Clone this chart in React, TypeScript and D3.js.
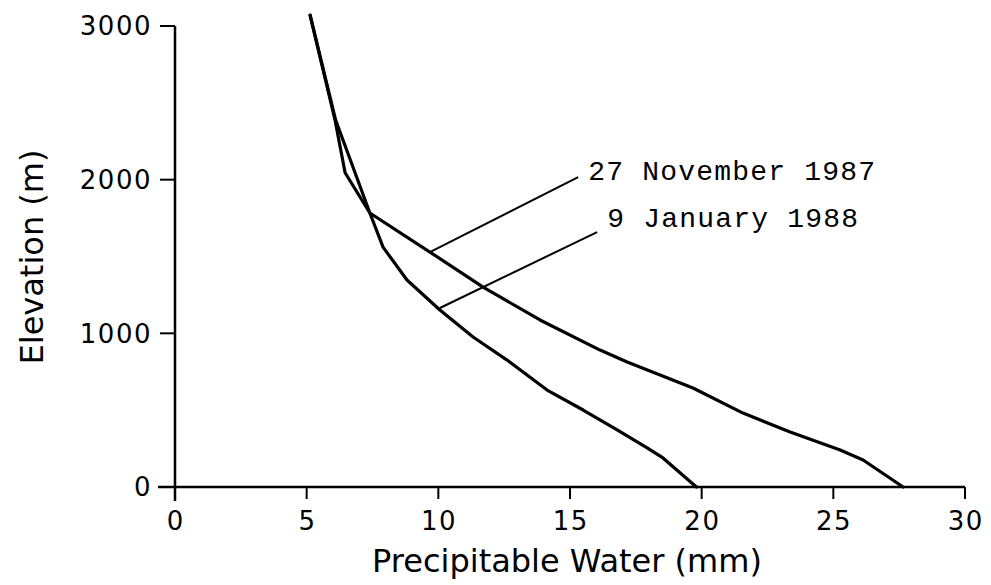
import React from "react";
import * as d3 from "d3";

// Precipitable water (mm) vs elevation (m)
const nov1987Water = [5.13, 6.08, 6.46, 7.4, 9.68, 11.7, 13.86, 16.14, 17.17, 19.67, 21.57, 23.36, 25.26, 26.13, 27.65];
const nov1987Elev = [3070, 2385, 2045, 1783, 1529, 1301, 1087, 891, 813, 644, 481, 358, 241, 176, 0];

const jan1988Water = [5.13, 6.1, 7.4, 7.9, 8.81, 10.06, 11.32, 12.61, 14.13, 15.5, 16.79, 17.93, 18.53, 19.8];
const jan1988Elev = [3070, 2388, 1783, 1561, 1347, 1152, 976, 826, 631, 501, 371, 254, 189, 0];

const xTicks = [0, 5, 10, 15, 20, 25, 30];
const yTicks = [0, 1000, 2000, 3000];

const seriesLabels = ["27 November 1987", "9 January 1988"];
// annotation anchors in data units: [water, elevation]
const labelAt = [[15.69, 1998], [16.41, 1692]];
const leaderFrom = [[9.68, 1529], [10.06, 1165]];
const leaderTo = [[15.31, 2017], [16.03, 1659]];

const W = 991;
const H = 585;

export default function App() {
  const x = d3.scaleLinear().domain([0, 30]).range([175, 965]);
  const y = d3.scaleLinear().domain([0, 3000]).range([487, 26]);

  const line = d3
    .line<[number, number]>()
    .x((d) => x(d[0]))
    .y((d) => y(d[1]));

  const nov = nov1987Water.map((w, i) => [w, nov1987Elev[i]] as [number, number]);
  const jan = jan1988Water.map((w, i) => [w, jan1988Elev[i]] as [number, number]);

  const sans = "'DejaVu Sans', sans-serif";
  const mono = "'Liberation Mono', monospace";

  return (
    <svg
      width={W}
      height={H}
      viewBox={`0 0 ${W} ${H}`}
      style={{ position: "fixed", left: 0, top: 0, background: "#fff" }}
    >
      <rect x={0} y={0} width={W} height={H} fill="#fff" />
      {/* axes */}
      <line x1={x(0) - 17} x2={x(30)} y1={y(0)} y2={y(0)} stroke="#000" strokeWidth={2.5} />
      <line x1={x(0)} x2={x(0)} y1={y(0) + 14} y2={y(3000)} stroke="#000" strokeWidth={2.5} />
      {yTicks.map((t) => (
        <g key={"y" + t}>
          <line x1={x(0) - 15} x2={x(0)} y1={y(t)} y2={y(t)} stroke="#000" strokeWidth={2} />
          <text
            x={x(0) - 23}
            y={y(t)}
            dy="0.36em"
            textAnchor="end"
            fontFamily={sans}
            fontSize={26}
            letterSpacing={1.5}
          >
            {t}
          </text>
        </g>
      ))}
      {xTicks.map((t) => (
        <g key={"x" + t}>
          <line x1={x(t)} x2={x(t)} y1={y(0)} y2={y(0) + 12} stroke="#000" strokeWidth={2} />
          <text
            x={x(t) + 0.75}
            y={530}
            textAnchor="middle"
            fontFamily={sans}
            fontSize={26}
            letterSpacing={1.5}
          >
            {t}
          </text>
        </g>
      ))}
      <text x={567} y={572} textAnchor="middle" fontFamily={sans} fontSize={32}>
        Precipitable Water (mm)
      </text>
      <text
        transform={`translate(43,257) rotate(-90)`}
        textAnchor="middle"
        fontFamily={sans}
        fontSize={32}
      >
        Elevation (m)
      </text>

      {/* series */}
      <path d={line(nov) || ""} fill="none" stroke="#000" strokeWidth={3.2} strokeLinejoin="round" strokeLinecap="round" />
      <path d={line(jan) || ""} fill="none" stroke="#000" strokeWidth={3.2} strokeLinejoin="round" strokeLinecap="round" />

      {/* annotations */}
      {seriesLabels.map((s, i) => (
        <g key={s}>
          <line
            x1={x(leaderFrom[i][0])}
            y1={y(leaderFrom[i][1])}
            x2={x(leaderTo[i][0])}
            y2={y(leaderTo[i][1])}
            stroke="#000"
            strokeWidth={2}
          />
          <text
            x={x(labelAt[i][0])}
            y={y(labelAt[i][1])}
            fontFamily={mono}
            fontSize={28}
            letterSpacing={1.2}
          >
            {s}
          </text>
        </g>
      ))}
    </svg>
  );
}
